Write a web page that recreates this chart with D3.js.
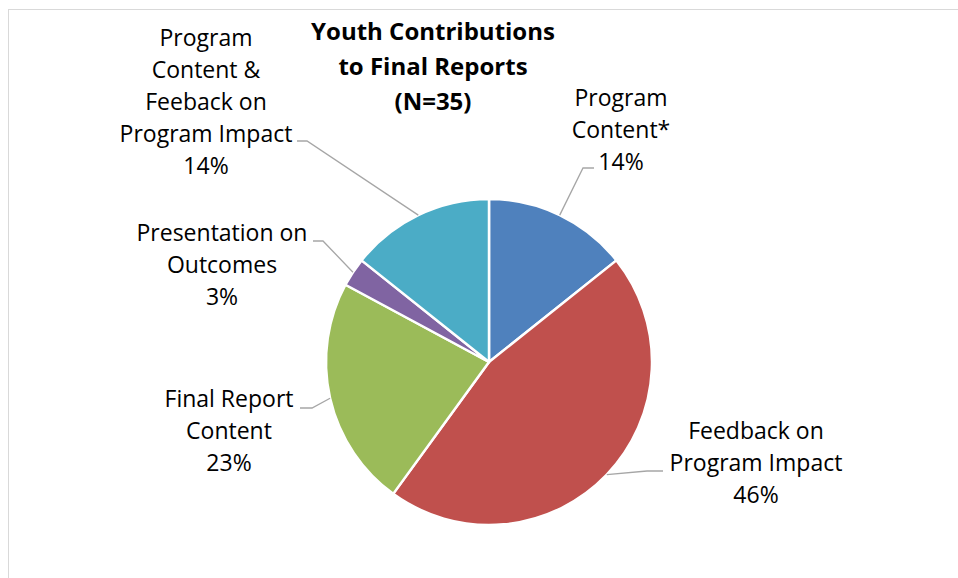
<!DOCTYPE html>
<html><head><meta charset="utf-8">
<script src="https://cdn.jsdelivr.net/npm/d3@7"></script>
<style>body{margin:0;background:#fff}svg{display:block}</style>
</head><body>
<svg id="chart" width="958" height="578"></svg>
<script>
// ---- data ----
const categories = ["Program Content*", "Feedback on Program Impact", "Final Report Content", "Presentation on Outcomes", "Program Content & Feeback on Program Impact"];
const counts = [5, 16, 8, 1, 5];
const percentLabels = ["14%", "46%", "23%", "3%", "14%"];
const labelLines = [
  ["Program", "Content*"],
  ["Feedback on", "Program Impact"],
  ["Final Report", "Content"],
  ["Presentation on", "Outcomes"],
  ["Program", "Content &", "Feeback on", "Program Impact"]
];
const colors = ["#4F81BD", "#C0504D", "#9BBB59", "#8064A2", "#4BACC6"];
const titleLines = ["Youth Contributions", "to Final Reports", "(N=35)"];

// ---- layout (label placement) ----
const labelLayout = [
  {x: 621, y: 106, elbow: [583, 168], end: [594, 168]},
  {x: 756, y: 439, elbow: [647, 471], end: [663, 471]},
  {x: 229, y: 407, elbow: [312, 408], end: [300, 408]},
  {x: 222, y: 241, elbow: [323, 241], end: [313, 241]},
  {x: 206, y: 46,  elbow: [307, 141], end: [297, 141]}
];

const svg = d3.select("#chart");
const W = 958, H = 578;
const cx = 489, cy = 362, R = 163;
const font = "'Open Sans', sans-serif";

// chart area border
svg.append("rect").attr("x", 8.5).attr("y", 9.5).attr("width", W).attr("height", H)
  .attr("fill", "none").attr("stroke", "#D9D9D9").attr("stroke-width", 1);

const pie = d3.pie().sort(null).value(d => d).startAngle(0).endAngle(2 * Math.PI);
const arcs = pie(counts);
const arc = d3.arc().innerRadius(0).outerRadius(R);

const g = svg.append("g").attr("transform", `translate(${cx},${cy})`);
g.selectAll("path").data(arcs).join("path")
  .attr("d", arc)
  .attr("fill", (d, i) => colors[i])
  .attr("stroke", "#fff").attr("stroke-width", 2.5).attr("stroke-linejoin", "round");

// leader lines
arcs.forEach((d, i) => {
  const mid = (d.startAngle + d.endAngle) / 2;
  const p0 = [cx + R * Math.sin(mid), cy - R * Math.cos(mid)];
  const L = labelLayout[i];
  svg.append("polyline")
    .attr("points", [p0, L.elbow, L.end].map(p => p.join(",")).join(" "))
    .attr("fill", "none").attr("stroke", "#A6A6A6").attr("stroke-width", 1.3);
});

// labels
labelLines.forEach((lines, i) => {
  const L = labelLayout[i];
  const t = svg.append("text").attr("x", L.x).attr("y", L.y)
    .attr("text-anchor", "middle").attr("font-family", font).attr("font-size", 23).attr("fill", "#000");
  lines.concat([percentLabels[i]]).forEach((s, k) => {
    t.append("tspan").attr("x", L.x).attr("y", L.y + k * 32).text(s);
  });
});

// title
const tt = svg.append("text").attr("text-anchor", "middle")
  .attr("font-family", font).attr("font-weight", "bold").attr("font-size", 24).attr("fill", "#000");
titleLines.forEach((s, k) => {
  tt.append("tspan").attr("x", 433).attr("y", 40 + k * 35).text(s);
});
</script>
</body></html>
